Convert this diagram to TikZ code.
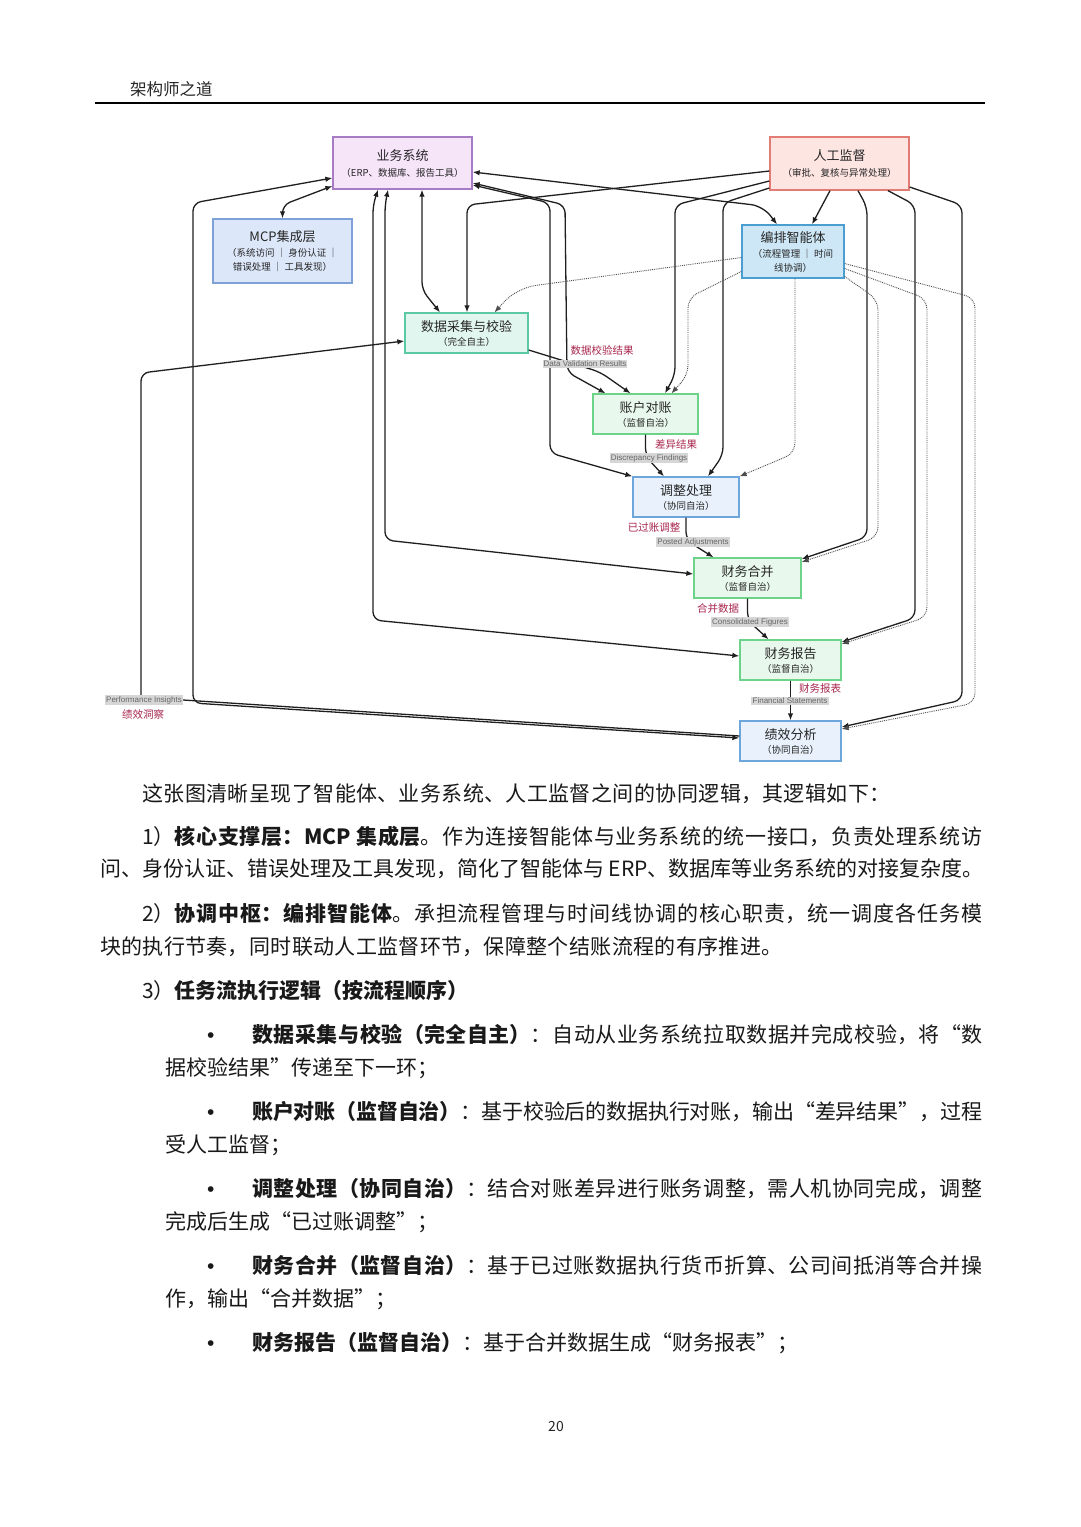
\documentclass[tikz,border=0pt]{standalone}
\usepackage{fontspec}
\newfontfamily\cjk{Noto Sans CJK SC}
\newfontfamily\lsans{Liberation Sans}
\usetikzlibrary{arrows.meta,calc}
\XeTeXlinebreaklocale "zh"
\XeTeXlinebreakskip=0pt plus 1.5pt minus 0.45pt
\definecolor{bizfill}{HTML}{F6E4F9}
\definecolor{bizdraw}{HTML}{A87BC6}
\definecolor{mcpfill}{HTML}{DCE7F9}
\definecolor{mcpdraw}{HTML}{7FA1DA}
\definecolor{humfill}{HTML}{FDE5E2}
\definecolor{humdraw}{HTML}{E27C74}
\definecolor{orchfill}{HTML}{CDE7F6}
\definecolor{orchdraw}{HTML}{4A9ED0}
\definecolor{dcfill}{HTML}{E2F6F0}
\definecolor{dcdraw}{HTML}{5CC9A6}
\definecolor{grfill}{HTML}{E9F8EC}
\definecolor{grdraw}{HTML}{6CD389}
\definecolor{blfill}{HTML}{E9F2FC}
\definecolor{bldraw}{HTML}{6DA6DB}
\definecolor{labred}{HTML}{A8274F}
\definecolor{labgray}{HTML}{D6D6D6}
\newcommand\subf{\fontsize{9.5}{12}\selectfont}
\newcommand\jline[2]{\parbox[b]{#1}{\parfillskip=0pt\parindent=0pt\tolerance=10000\emergencystretch=0pt #2}}
\tikzset{
  box/.style={draw, line width=1.3pt, inner sep=0pt, align=center,
    font=\cjk\fontsize{13}{15}\selectfont, text=black!85},
  edge/.style={line width=1.3pt, black!88, rounded corners=8pt},
  dotedge/.style={line width=0.9pt, densely dotted, black!70, rounded corners=10pt},
  redlab/.style={text=labred, font=\cjk\fontsize{10.5}{12}\selectfont, inner sep=1pt},
  graylab/.style={fill=labgray, text=black!60, font=\lsans\fontsize{8}{9}\selectfont, inner sep=1.2pt},
  body/.style={anchor=base west, inner sep=0pt, font=\cjk\fontsize{21}{25}\selectfont, text=black!90},
  bullet/.style={anchor=base west, inner sep=0pt, font=\lsans\fontsize{21}{25}\selectfont, text=black!90},
}
\begin{document}
\begin{tikzpicture}[x=1pt,y=-1pt,>={Latex[length=7pt,width=5.5pt]}]
\useasboundingbox (0,0) rectangle (1080,1527);
\fill[white] (0,0) rectangle (1080,1527);

% header
\node[anchor=base west, inner sep=0pt, font=\cjk\fontsize{16.5}{18}\selectfont, text=black!85] (hdr) at (130,95) {架构师之道};
\draw[line width=1.8pt] (95,103) coordinate (hl) -- (985,103) coordinate (hr);

% nodes
\node[box, fill=bizfill, draw=bizdraw, minimum width=139pt, minimum height=52pt] (biz) at (402.5,163)
  {业务系统\\[1pt]{\subf （ERP、数据库、报告工具）}};
\node[box, fill=mcpfill, draw=mcpdraw, minimum width=139pt, minimum height=64pt] (mcp) at (282.5,251)
  {MCP集成层\\[0pt]{\subf （系统访问 ｜ 身份认证 ｜}\\[-1pt]{\subf 错误处理 ｜ 工具发现）}};
\node[box, fill=humfill, draw=humdraw, minimum width=139pt, minimum height=53pt] (hum) at (839.5,163.5)
  {人工监督\\[1pt]{\subf （审批、复核与异常处理）}};
\node[box, fill=orchfill, draw=orchdraw, minimum width=102pt, minimum height=53pt] (orch) at (793,251.5)
  {编排智能体\\[0pt]{\subf （流程管理 ｜ 时间}\\[-1pt]{\subf 线协调）}};
\node[box, fill=dcfill, draw=dcdraw, minimum width=123pt, minimum height=40pt] (dc) at (466.5,333)
  {数据采集与校验\\[-1pt]{\subf （完全自主）}};
\node[box, fill=grfill, draw=grdraw, minimum width=105pt, minimum height=40pt] (rec) at (645.5,414)
  {账户对账\\[-1pt]{\subf （监督自治）}};
\node[box, fill=blfill, draw=bldraw, minimum width=106pt, minimum height=40pt] (adj) at (686,497)
  {调整处理\\[-1pt]{\subf （协同自治）}};
\node[box, fill=grfill, draw=grdraw, minimum width=107pt, minimum height=40pt] (con) at (747.5,578)
  {财务合并\\[-1pt]{\subf （监督自治）}};
\node[box, fill=grfill, draw=grdraw, minimum width=101pt, minimum height=40pt] (rep) at (790.5,660)
  {财务报告\\[-1pt]{\subf （监督自治）}};
\node[box, fill=blfill, draw=bldraw, minimum width=101pt, minimum height=40pt] (perf) at (790.5,741)
  {绩效分析\\[-1pt]{\subf （协同自治）}};

% performance insights label (gray box)
\node[graylab] (pig) at (144,700) {Performance Insights};
\node[redlab] (pir) at (143,714) {绩效洞察};

% solid edges
\draw[edge,<->] (mcp.north) -- (282.5,205) -- ([yshift=-23pt]biz.west);
\draw[edge,<->] ([yshift=3pt]perf.west) -- (193,703) -- (193,203) -- ([yshift=-15pt]biz.west);
\draw[edge] ([yshift=5pt]perf.west) -- (pig.east);
\draw[edge,->] ([xshift=-3pt]pig.north) -- (141,373) -- ([yshift=-8pt]dc.west);
\draw[edge,<->] ([xshift=-14.5pt]biz.south) -- (385,205) -- (385,540) -- ([yshift=4pt]con.west);
\draw[edge,<->] ([xshift=-24.5pt]biz.south) -- (373,205) -- (373,620) -- ([yshift=4pt]rep.west);
\draw[edge,<->] ([xshift=19.5pt]biz.south) -- (422,290) -- ([xshift=-26.5pt]dc.north);
\draw[edge,->] ([yshift=-7.5pt]hum.west) -- (467,205) -- ([xshift=0.5pt]dc.north);
\draw[edge,<->,rounded corners=12pt] ([yshift=-9pt]biz.east) -- (763,206) -- ([xshift=-16pt]orch.north);
\draw[edge,->] ([xshift=-9.5pt]hum.south) -- ([xshift=19pt]orch.north);
\draw[edge,->] ([yshift=-17.5pt]hum.west) -- (675,205) -- (675,375) -- ([xshift=19.5pt]rec.north);
\draw[edge,->] ([yshift=-24.5pt]hum.west) -- (723,203) -- (723,455) -- ([xshift=22pt]adj.north);
\draw[edge,->] ([xshift=18.5pt]hum.south) -- (867,207) -- (867,537) -- ([yshift=19pt]con.east);
\draw[edge,->] ([xshift=48.5pt]hum.south) -- (915,205) -- (915,618) -- ([yshift=18pt]rep.east);
\draw[edge,->] ([yshift=-23.5pt]hum.east) -- (962,205) -- (962,700) -- ([yshift=14pt]perf.east);
\draw[edge,<->] ([yshift=-20pt]biz.east) -- (565,205) -- (567,372) -- ([xshift=-40pt]rec.north);
\draw[edge,<->] ([yshift=-22pt]biz.east) -- (550,203) -- (550,453) -- (adj.north west);
\draw[edge,->] ([yshift=-17pt]dc.east) -- (600,372) -- ([xshift=-15pt]rec.north);
\draw[edge,->] (rec.south) -- (645.5,456) -- ([xshift=-22pt]adj.north);
\draw[edge,->] (adj.south) -- (686,540) -- ([xshift=-34pt]con.north);
\draw[edge,->] (con.south) -- (747.5,620) -- ([xshift=-22pt]rep.north);
\draw[edge,->] (rep.south) -- (perf.north);

% dotted edges from orchestrator
\draw[dotedge,->,rounded corners=18pt] ([yshift=-6pt]orch.west) -- (517,288) -- ([xshift=28pt]dc.north);
\draw[dotedge,->] ([yshift=-20pt]orch.west) -- (688,298) -- (688,375) -- ([xshift=26pt]rec.north);
\draw[dotedge,->] ([xshift=2pt]orch.south) -- (795,453) -- (adj.north east);
\draw[dotedge,->] ([yshift=-25pt]orch.east) -- (878,300) -- (878,537) -- ([yshift=16pt]con.east);
\draw[dotedge,->] ([yshift=-17pt]orch.east) -- (927,299) -- (927,617) -- ([yshift=16pt]rep.east);
\draw[dotedge,->] ([yshift=-12pt]orch.east) -- (975,298) -- (975,703) -- ([yshift=12pt]perf.east);

% edge labels
\node[redlab] (dvr) at (602,350) {数据校验结果};
\node[graylab] (dvg) at (585,364) {Data Validation Results};
\node[redlab] (dfr) at (676,445) {差异结果};
\node[graylab] (dfg) at (649,458) {Discrepancy Findings};
\node[redlab] (par) at (654,528) {已过账调整};
\node[graylab] (pag) at (693,542) {Posted Adjustments};
\node[redlab] (cfr) at (718,609) {合并数据};
\node[graylab] (cfg) at (750,622) {Consolidated Figures};
\node[redlab] (fsr) at (820,689) {财务报表};
\node[graylab] (fsg) at (790,701) {Financial Statements};

% body text
\node[body] (t1) at (142,801) {\jline{748pt}{这张图清晰呈现了智能体、业务系统、人工监督之间的协同逻辑，其逻辑如下：}};
\node[body] (t2) at (142,844) {\jline{840pt}{1）{\bfseries 核心支撑层：MCP 集成层}。作为连接智能体与业务系统的统一接口，负责处理系统访}};
\node[body] (t3) at (100,876) {问、身份认证、错误处理及工具发现，简化了智能体与 ERP、数据库等业务系统的对接复杂度。};
\node[body] (t4) at (142,921) {\jline{840pt}{2）{\bfseries 协调中枢：编排智能体}。承担流程管理与时间线协调的核心职责，统一调度各任务模}};
\node[body] (t5) at (100,954) {\jline{682pt}{块的执行节奏，同时联动人工监督环节，保障整个结账流程的有序推进。}};
\node[body] (t6) at (142,998) {3）{\bfseries 任务流执行逻辑（按流程顺序）}};

\node[bullet] (b1) at (207,1042) {•};
\node[body] (t7) at (252,1042) {\jline{730pt}{{\bfseries 数据采集与校验（完全自主）}：自动从业务系统拉取数据并完成校验，将“数}};
\node[body] (t8) at (165,1075) {据校验结果”传递至下一环；};
\node[bullet] (b2) at (207,1119) {•};
\node[body] (t9) at (252,1119) {\jline{730pt}{{\bfseries 账户对账（监督自治）}：基于校验后的数据执行对账，输出“差异结果”，过程}};
\node[body] (t10) at (165,1152) {受人工监督；};
\node[bullet] (b3) at (207,1196) {•};
\node[body] (t11) at (252,1196) {\jline{730pt}{{\bfseries 调整处理（协同自治）}：结合对账差异进行账务调整，需人机协同完成，调整}};
\node[body] (t12) at (165,1229) {完成后生成“已过账调整”；};
\node[bullet] (b4) at (207,1273) {•};
\node[body] (t13) at (252,1273) {\jline{730pt}{{\bfseries 财务合并（监督自治）}：基于已过账数据执行货币折算、公司间抵消等合并操}};
\node[body] (t14) at (165,1306) {作，输出“合并数据”；};
\node[bullet] (b5) at (207,1350) {•};
\node[body] (t15) at (252,1350) {{\bfseries 财务报告（监督自治）}：基于合并数据生成“财务报表”；};

\node[inner sep=0pt, font=\cjk\fontsize{14}{16}\selectfont, text=black!85] (pg) at (556,1426) {20};
\end{tikzpicture}
\end{document}
